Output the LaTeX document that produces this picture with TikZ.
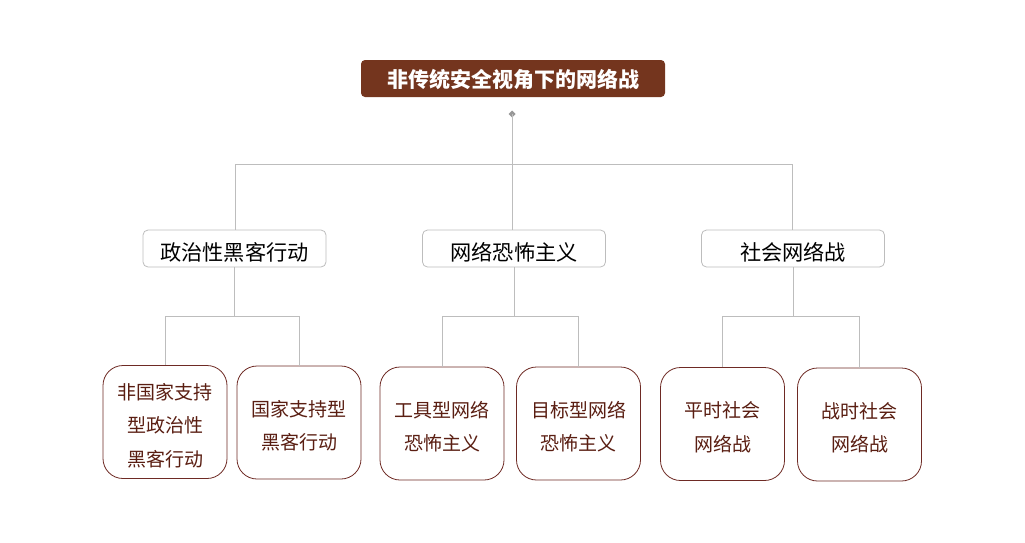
\documentclass[tikz,border=0pt]{standalone}
\usepackage{fontspec}
\setmainfont{Noto Sans CJK SC}
\definecolor{titlebrown}{HTML}{74351E}
\definecolor{leafborder}{HTML}{6E2A24}
\definecolor{leaftext}{HTML}{5A1E12}
\definecolor{linegray}{HTML}{BDBDBD}
\newcommand{\dropby}[2]{\raisebox{-#1}[\height][\depth]{#2}}
\begin{document}
\begin{tikzpicture}[x=1pt,y=-1pt,
  titlebox/.style={fill=titlebrown,rounded corners=4pt,text=white,font=\fontsize{21}{24}\selectfont\bfseries,minimum width=304pt,minimum height=37pt,inner sep=0pt},
  midbox/.style={draw=linegray,line width=0.8pt,rounded corners=5pt,fill=white,font=\fontsize{21.2}{24}\selectfont,minimum width=183pt,minimum height=37pt,inner sep=0pt},
  leafbox/.style={draw=leafborder,line width=0.8pt,rounded corners=20pt,fill=white,text=leaftext,font=\fontsize{19}{33.5}\selectfont,minimum width=124pt,minimum height=113pt,inner sep=0pt,align=center},
  conn/.style={draw=linegray,line width=0.8pt}]
\useasboundingbox (0,0) rectangle (1025,542);
\node[titlebox] (title) at (513,78.5) {\dropby{1pt}{非传统安全视角下的网络战}};
\node[midbox] (m1) at (234.5,248.5) {\dropby{3.5pt}{政治性黑客行动}};
\node[midbox] (m2) at (514,248.5) {\dropby{3.5pt}{网络恐怖主义}};
\node[midbox] (m3) at (793,248.5) {\dropby{3.5pt}{社会网络战}};
\node[leafbox] (l1) at (165,422) {\dropby{4pt}{\begin{tabular}{@{}c@{}}非国家支持\\型政治性\\黑客行动\end{tabular}}};
\node[leafbox] (l2) at (299,422.5) {\dropby{4pt}{\begin{tabular}{@{}c@{}}国家支持型\\黑客行动\end{tabular}}};
\node[leafbox] (l3) at (442,423.5) {\dropby{4pt}{\begin{tabular}{@{}c@{}}工具型网络\\恐怖主义\end{tabular}}};
\node[leafbox] (l4) at (578.5,423.5) {\dropby{4pt}{\begin{tabular}{@{}c@{}}目标型网络\\恐怖主义\end{tabular}}};
\node[leafbox] (l5) at (722.5,424) {\dropby{4pt}{\begin{tabular}{@{}c@{}}平时社会\\网络战\end{tabular}}};
\node[leafbox] (l6) at (859.5,424.5) {\dropby{4pt}{\begin{tabular}{@{}c@{}}战时社会\\网络战\end{tabular}}};
\coordinate (d) at (512,114);
\fill[linegray!80!black] (d) ++(0,-3.5) -- ++(3.5,3.5) -- ++(-3.5,3.5) -- ++(-3.5,-3.5) -- cycle;
\coordinate (h1) at (235,164);
\coordinate (h3) at (792,164);
\draw[conn] (d) -- (512,230);
\draw[conn] (m1.north -| h1) |- (h3) -- (m3.north -| h3);
\foreach \m/\a/\b in {m1/l1/l2, m2/l3/l4, m3/l5/l6}{
  \draw[conn] (\m.south) -- ++(0,49) coordinate (j);
  \draw[conn] (\a.north) |- (j) -| (\b.north);
}
\end{tikzpicture}
\end{document}
